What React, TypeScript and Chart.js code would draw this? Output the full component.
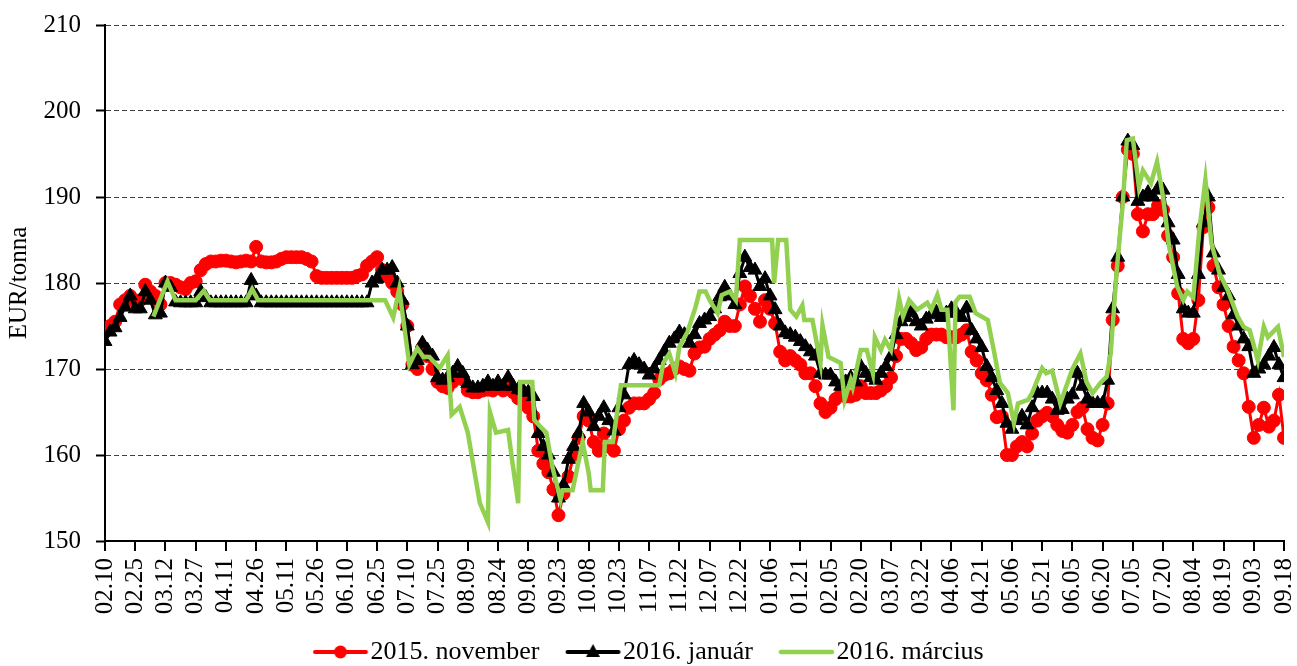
import React, { useEffect, useRef } from 'react';
import { Chart, registerables } from 'chart.js';

Chart.register(...registerables);

// x-axis tick labels, one every 15 calendar days (day 0 = 02.10)
const tickLabels = [
  '02.10', '02.25', '03.12', '03.27', '04.11', '04.26', '05.11', '05.26', '06.10', '06.25',
  '07.10', '07.25', '08.09', '08.24', '09.08', '09.23', '10.08', '10.23', '11.07', '11.22',
  '12.07', '12.22', '01.06', '01.21', '02.05', '02.20', '03.07', '03.22', '04.06', '04.21',
  '05.06', '05.21', '06.05', '06.20', '07.05', '07.20', '08.04', '08.19', '09.03', '09.18',
];
const tickStepDays = 15;
const lastDay = 585;

// red and black series: one reading every 2.5 days from day 0
const sampleStepDays = 2.5;

const nov2015 = [
  174.3, 175.0, 175.5, 177.5, 178.0, 178.5, 177.8, 178.0, 179.8, 179.0,
  178.5, 177.5, 180.0, 180.0, 179.8, 179.5, 179.3, 180.0, 180.2, 181.5,
  182.2, 182.5, 182.5, 182.6, 182.6, 182.5, 182.4, 182.5, 182.6, 182.5,
  184.2, 182.5, 182.4, 182.4, 182.5, 182.8, 183.0, 183.0, 183.0, 183.0,
  182.8, 182.5, 180.8, 180.6, 180.6, 180.6, 180.6, 180.6, 180.6, 180.6,
  180.8, 181.0, 182.0, 182.5, 183.0, 181.5, 180.8, 180.0, 179.0, 177.5,
  175.0, 170.5, 170.0, 172.5, 171.5, 170.0, 168.5, 168.0, 167.8, 168.5,
  169.5, 168.8, 167.5, 167.3, 167.3, 167.5, 167.6, 167.5, 167.8, 167.5,
  168.0, 167.3, 166.6, 166.4, 165.5, 164.5, 160.5, 159.0, 158.0, 156.0,
  153.0, 155.5, 157.5, 160.0, 162.0, 164.5, 164.0, 161.5, 160.5, 162.5,
  161.0, 160.5, 163.0, 164.0, 165.5, 166.0, 166.0, 166.0, 166.5, 167.2,
  168.8, 169.3, 169.5, 170.0, 170.3, 170.0, 169.8, 171.8, 172.5, 172.6,
  173.5, 174.0, 174.5, 175.5, 175.0, 175.0, 177.5, 179.6, 178.5, 177.0,
  175.5, 178.0, 177.0, 175.3, 172.0, 171.0, 171.5, 171.0, 170.5, 169.5,
  169.5, 168.0, 166.0, 165.0, 165.5, 166.5, 167.0, 166.8, 166.8, 167.0,
  168.0, 167.2, 167.2, 167.2, 167.5, 168.0, 169.0, 171.5, 173.5, 173.5,
  173.0, 172.2, 172.5, 173.5, 174.0, 174.0, 174.0, 173.7, 173.7, 173.7,
  174.0, 174.5, 172.0, 171.0, 169.5, 168.7, 167.0, 164.4, 164.5, 160.0,
  160.0, 161.0, 161.5, 161.0, 162.5, 164.0, 164.5, 164.9, 164.5, 163.5,
  162.8, 162.6, 163.5, 165.0, 165.5, 163.0, 162.0, 161.7, 163.5, 166.0,
  175.7, 182.0, 190.0, 195.5, 195.0, 188.0, 186.0, 188.0, 188.0, 189.0,
  188.5, 185.5, 183.0, 178.8, 173.5, 173.0, 173.5, 178.0, 186.5, 188.8,
  182.0, 179.5, 177.5, 175.0, 172.6, 171.0, 169.5, 165.6, 162.0, 163.5,
  165.5, 163.3, 164.0, 167.0, 162.0,
];

const jan2016 = [
  173.2, 174.3, 174.8, 176.0, 177.2, 178.5, 177.0, 177.0, 179.0, 178.0,
  176.3, 176.5, 180.0, 179.5, 177.8, 177.7, 177.7, 177.7, 177.7, 179.0,
  178.3, 177.7, 177.7, 177.7, 177.7, 177.7, 177.7, 177.7, 177.7, 180.3,
  178.5, 177.7, 177.7, 177.7, 177.7, 177.7, 177.7, 177.7, 177.7, 177.7,
  177.7, 177.7, 177.7, 177.7, 177.7, 177.7, 177.7, 177.7, 177.7, 177.7,
  177.7, 177.7, 177.7, 180.0, 180.5, 181.5, 181.5, 181.8, 180.0, 178.0,
  175.0, 170.5, 171.0, 173.0, 172.2, 171.5, 169.0, 168.7, 169.0, 169.5,
  170.3, 169.5, 168.3, 167.8, 167.8, 168.0, 168.5, 168.0, 168.5, 168.0,
  169.0, 168.0, 167.6, 167.5, 167.3, 166.8, 162.5, 161.0, 160.0, 158.0,
  155.0, 156.5, 159.5, 161.0, 162.5, 166.0, 165.0, 163.3, 164.5, 165.5,
  164.0, 162.8, 165.5, 167.0, 170.5, 171.0, 170.5, 170.0, 169.3, 170.0,
  171.0, 172.0, 173.0, 173.5, 174.3, 174.0, 173.0, 174.0, 175.3, 175.7,
  176.1, 177.0, 178.4, 179.5, 178.5, 177.5, 181.1, 183.0, 181.8, 181.5,
  179.6, 180.5, 178.5, 176.9, 175.0, 174.2, 174.0, 173.7, 173.2, 172.6,
  172.0, 171.5, 169.5, 169.3, 169.3, 168.5, 168.0, 168.5, 169.0, 168.5,
  170.3, 169.5, 169.0, 168.7, 169.5, 170.3, 171.5, 174.0, 175.5, 176.0,
  176.6, 175.5, 175.0, 175.8, 176.3, 176.6, 176.0, 176.5, 177.0, 176.5,
  176.0, 177.1, 174.5, 173.5, 172.5, 170.3, 169.0, 167.5, 166.0, 163.7,
  163.0, 164.0, 164.5, 163.5, 165.5, 167.2, 167.2, 167.2, 166.5, 165.2,
  165.3, 166.5, 167.0, 169.5, 168.0, 166.5, 166.0, 166.0, 166.0, 168.7,
  177.0, 183.0, 190.0, 196.5, 196.0, 189.5, 190.0, 190.5, 190.0, 191.0,
  190.8, 187.0, 185.0, 181.0, 177.0, 176.5, 176.5, 181.0, 187.0, 190.0,
  183.5, 181.5, 179.5, 178.5, 176.3, 175.0, 173.5, 172.6, 169.5, 170.0,
  170.5, 171.5, 172.5, 170.5, 169.0,
];

// green series (line only), read at irregular days
const marDays = [
  24, 31, 35, 45, 49, 52, 70, 73, 76, 139, 143, 146, 151, 155, 158, 161, 166, 170, 172, 176,
  180, 186, 190, 191, 194, 200, 202, 205, 206, 212, 213, 216, 219, 222, 226, 227, 232, 237, 240, 241,
  247, 248, 252, 256, 275, 277, 280, 283, 285, 289, 293, 295, 298, 300, 304, 306, 310, 313, 315, 331,
  332, 334, 338, 340, 343, 346, 347, 351, 355, 356, 359, 365, 367, 370, 371, 375, 378, 381, 382, 385,
  387, 390, 394, 396, 399, 403, 408, 410, 413, 415, 418, 421, 422, 424, 429, 432, 438, 441, 444, 448,
  451, 453, 458, 460, 465, 467, 470, 474, 480, 484, 487, 490, 494, 497, 499, 502, 505, 507, 510, 513,
  515, 519, 522, 525, 528, 532, 535, 537, 540, 543, 546, 549, 553, 557, 562, 565, 568, 572, 575, 577,
  582, 585,
];
const mar2016 = [
  176.1, 180.2, 178.0, 178.0, 179.1, 178.0, 178.0, 179.3, 178.0, 178.0, 176.0, 179.3, 170.5, 172.4, 171.4, 171.4, 170.1, 171.6, 164.7, 165.6,
  162.6, 154.4, 152.2, 165.0, 162.6, 162.9, 159.4, 154.4, 168.5, 168.5, 164.1, 163.3, 162.6, 158.6, 154.8, 155.9, 155.9, 161.5, 157.9, 155.9,
  155.9, 161.5, 161.5, 168.1, 168.1, 170.7, 171.8, 169.5, 172.6, 174.3, 177.2, 179.0, 179.0, 178.0, 176.5, 178.6, 179.0, 178.0, 185.0, 185.0,
  180.0, 185.0, 185.0, 176.9, 176.1, 177.4, 175.7, 175.7, 170.7, 175.1, 171.4, 170.7, 166.4, 168.7, 167.9, 172.2, 172.2, 169.5, 173.7, 172.2,
  173.4, 172.2, 178.2, 176.1, 178.0, 176.9, 177.7, 176.9, 178.6, 176.9, 176.9, 165.2, 177.8, 178.4, 178.4, 176.5, 175.7, 172.2, 168.4, 167.2,
  163.7, 166.0, 166.4, 167.2, 170.1, 169.5, 169.8, 166.0, 170.0, 171.8, 168.5, 167.2, 168.4, 169.1, 171.8, 181.5, 189.2, 196.6, 196.8, 191.2,
  193.1, 191.6, 194.1, 190.0, 184.2, 179.6, 178.0, 179.0, 178.3, 186.2, 192.0, 184.6, 181.1, 179.2, 176.1, 174.9, 174.5, 171.0, 174.9, 173.7,
  174.9, 171.4,
];

const seriesNames = ['2015. november', '2016. január', '2016. március'];
const seriesColors = ['#FF0000', '#000000', '#92D050'];

const yMin = 150;
const yMax = 210;
const yStep = 10;

const FONT = "'Liberation Serif', 'Times New Roman', serif";

// legend sample: a 55px line (with marker) drawn right of the image centre
function makeLegendSample(color: string, marker: 'circle' | 'triangle' | null, lineWidth: number) {
  const c = document.createElement('canvas');
  c.width = 76;
  c.height = 22;
  const ctx = c.getContext('2d')!;
  const cx = 47.25;
  const cy = 11;
  ctx.strokeStyle = color;
  ctx.lineWidth = lineWidth;
  ctx.lineCap = 'round';
  ctx.beginPath();
  ctx.moveTo(cx - 25.5, cy);
  ctx.lineTo(cx + 25.5, cy);
  ctx.stroke();
  ctx.fillStyle = color;
  if (marker === 'circle') {
    ctx.beginPath();
    ctx.arc(cx, cy, 6.5, 0, Math.PI * 2);
    ctx.fill();
  } else if (marker === 'triangle') {
    ctx.beginPath();
    ctx.moveTo(cx, cy - 8);
    ctx.lineTo(cx + 7, cy + 5);
    ctx.lineTo(cx - 7, cy + 5);
    ctx.closePath();
    ctx.fill();
  }
  return c;
}

const legendShift = {
  id: 'legendShift',
  afterLayout(chart: any) {
    if (chart.legend) {
      chart.legend.left = 287;
    }
  },
};

export default function App() {
  const canvasRef = useRef<HTMLCanvasElement | null>(null);

  useEffect(() => {
    if (!canvasRef.current) return;
    const samples = [
      makeLegendSample(seriesColors[0], 'circle', 4),
      makeLegendSample(seriesColors[1], 'triangle', 4),
      makeLegendSample(seriesColors[2], null, 4.5),
    ];

    const chart = new Chart(canvasRef.current, {
      type: 'line',
      data: {
        datasets: [
          {
            label: seriesNames[0],
            data: nov2015.map((v, i) => ({ x: i * sampleStepDays, y: v })),
            borderColor: seriesColors[0],
            backgroundColor: seriesColors[0],
            borderWidth: 3,
            pointStyle: 'circle',
            pointRadius: 6.5,
            pointBorderWidth: 1,
            pointBackgroundColor: seriesColors[0],
            pointBorderColor: seriesColors[0],
            tension: 0,
            order: 3,
          },
          {
            label: seriesNames[1],
            data: jan2016.map((v, i) => ({ x: i * sampleStepDays, y: v })),
            borderColor: seriesColors[1],
            backgroundColor: seriesColors[1],
            borderWidth: 3,
            pointStyle: 'triangle',
            pointRadius: 8,
            pointBorderWidth: 1,
            pointBackgroundColor: seriesColors[1],
            pointBorderColor: seriesColors[1],
            tension: 0,
            order: 2,
          },
          {
            label: seriesNames[2],
            data: marDays.map((d, i) => ({ x: d, y: mar2016[i] })),
            borderColor: seriesColors[2],
            backgroundColor: seriesColors[2],
            borderWidth: 4.5,
            pointRadius: 0,
            tension: 0,
            order: 1,
          },
        ],
      },
      options: {
        responsive: false,
        animation: false,
        devicePixelRatio: 1,
        events: [],
        layout: { padding: { left: 0, right: 13, top: 25, bottom: 0 } },
        plugins: {
          tooltip: { enabled: false },
          legend: {
            position: 'bottom',
            align: 'start',
            labels: {
              usePointStyle: true,
              pointStyleWidth: 52.5,
              padding: 18,
              color: '#000',
              font: { family: FONT, size: 26 },
              generateLabels: () =>
                seriesNames.map((name, i) => ({
                  text: name,
                  pointStyle: samples[i] as any,
                  datasetIndex: i,
                  hidden: false,
                  fontColor: '#000',
                  lineWidth: 0,
                  strokeStyle: seriesColors[i],
                  fillStyle: seriesColors[i],
                })),
            },
          },
        },
        scales: {
          x: {
            type: 'linear',
            min: 0,
            max: lastDay,
            afterBuildTicks: (scale: any) => {
              scale.ticks = tickLabels.map((_, i) => ({ value: i * tickStepDays }));
            },
            afterFit: (scale: any) => {
              scale.height = 80;
              scale.paddingLeft = 0;
              scale.paddingRight = 0;
            },
            ticks: {
              autoSkip: false,
              minRotation: 90,
              maxRotation: 90,
              padding: 7,
              color: '#000',
              font: { family: FONT, size: 25 },
              callback: (_v: any, i: number) => tickLabels[i],
            },
            grid: {
              drawOnChartArea: false,
              drawTicks: true,
              tickLength: 10,
              color: '#000',
              lineWidth: 2,
            },
            border: { display: true, color: '#000', width: 2 },
          },
          y: {
            min: yMin,
            max: yMax,
            afterFit: (scale: any) => {
              scale.width = 105;
              scale.paddingTop = 0;
              scale.paddingBottom = 0;
            },
            ticks: {
              stepSize: yStep,
              padding: 15,
              color: '#000',
              font: { family: FONT, size: 25 },
            },
            grid: {
              drawTicks: true,
              tickLength: 9,
              color: (ctx: any) => (ctx.tick && ctx.tick.value === yMin ? 'rgba(0,0,0,0)' : '#404040'),
              lineWidth: 1,
              tickColor: '#000',
              tickWidth: 2,
            },
            border: { display: true, color: '#000', width: 2, dash: [5, 3] },
            title: {
              display: true,
              text: 'EUR/tonna',
              color: '#000',
              font: { family: FONT, size: 25 },
              padding: { top: 4, bottom: 0 },
            },
          },
        },
      },
      plugins: [legendShift],
    } as any);

    return () => {
      chart.destroy();
    };
  }, []);

  return (
    <div
      style={{
        position: 'fixed',
        left: 0,
        top: 0,
        width: 1297,
        height: 666,
        overflow: 'hidden',
        background: '#fff',
      }}
    >
      <canvas ref={canvasRef} width={1297} height={675} style={{ display: 'block' }} />
    </div>
  );
}
